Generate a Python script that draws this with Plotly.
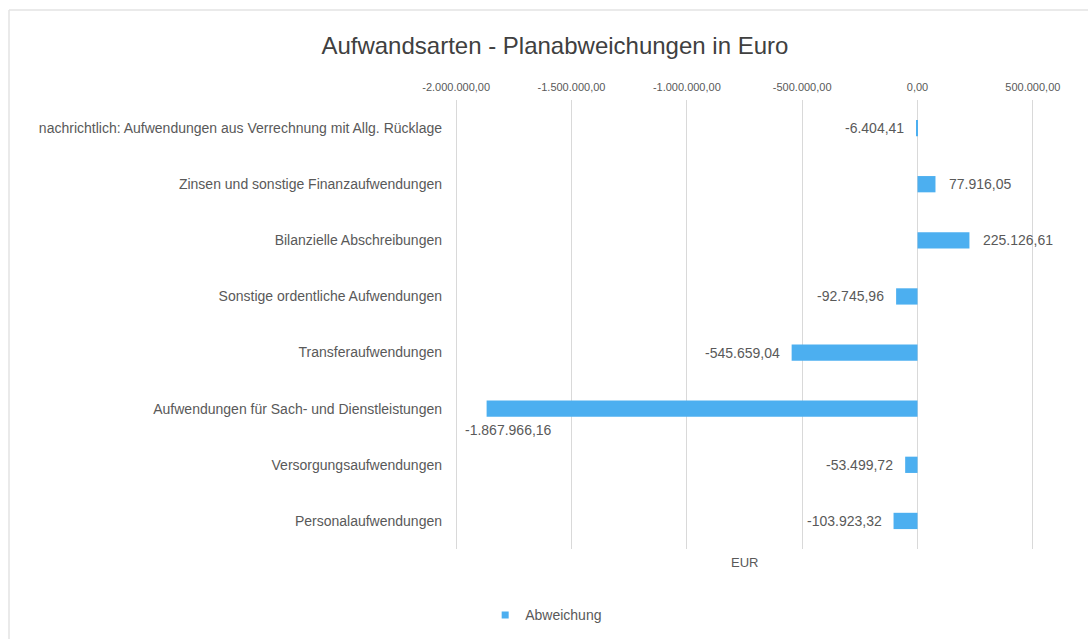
import plotly.graph_objects as go

categories = [
    "Personalaufwendungen",
    "Versorgungsaufwendungen",
    "Aufwendungen für Sach- und Dienstleistungen",
    "Transferaufwendungen",
    "Sonstige ordentliche Aufwendungen",
    "Bilanzielle Abschreibungen",
    "Zinsen und sonstige Finanzaufwendungen",
    "nachrichtlich: Aufwendungen aus Verrechnung mit Allg. Rücklage",
]
abweichung = [-103923.32, -53499.72, -1867966.16, -545659.04, -92745.96, 225126.61, 77916.05, -6404.41]
tick_vals = [-2000000, -1500000, -1000000, -500000, 0, 500000]


def de_fmt(v):
    s = f"{v:,.2f}"
    return s.replace(",", "X").replace(".", ",").replace("X", ".")


tick_text = [de_fmt(v) for v in tick_vals]

BLUE = "#4CAFF0"
TXT = "#595959"
FONT = "Liberation Sans, Arial, sans-serif"

fig = go.Figure()
fig.add_trace(go.Bar(
    x=abweichung, y=categories, orientation="h", name="Abweichung",
    marker=dict(color=BLUE, line=dict(width=0)), width=0.29,
    showlegend=False, hoverinfo="x+y",
))
# legend entry with small square symbol
fig.add_trace(go.Scatter(
    x=[None], y=[None], mode="markers", name="Abweichung",
    marker=dict(symbol="square", size=7, color=BLUE), showlegend=True,
))

annotations = []
for c, v in zip(categories, abweichung):
    if v < -1000000:
        annotations.append(dict(x=v, y=c, text=de_fmt(v), showarrow=False,
                                xanchor="left", yanchor="middle", xshift=-24, yshift=-21,
                                font=dict(size=14, color=TXT, family=FONT)))
    elif v < 0:
        annotations.append(dict(x=v, y=c, text=de_fmt(v), showarrow=False,
                                xanchor="right", yanchor="middle", xshift=-10,
                                font=dict(size=14, color=TXT, family=FONT)))
    else:
        annotations.append(dict(x=v, y=c, text=de_fmt(v), showarrow=False,
                                xanchor="left", yanchor="middle", xshift=12,
                                font=dict(size=14, color=TXT, family=FONT)))

annotations.append(dict(x=0.5, y=-0.01, xref="paper", yref="paper", text="EUR",
                        showarrow=False, xanchor="center", yanchor="top",
                        font=dict(size=13, color=TXT, family=FONT)))

PL, PR = 455, 1034
W = PR - PL
px_x = lambda p: (p - PL) / W
px_y = lambda p: (549 - p) / 449
fig.update_layout(
    width=1088, height=639,
    paper_bgcolor="white", plot_bgcolor="white",
    margin=dict(l=PL, r=1088 - PR, t=100, b=90),
    title=dict(text="Aufwandsarten - Planabweichungen in Euro", x=0.51, xref="container",
               xanchor="center", y=0.928, yanchor="middle",
               font=dict(size=24, color="#404040", family=FONT)),
    font=dict(family=FONT, color=TXT),
    xaxis=dict(side="top", range=[-2005000, 505000], tickvals=tick_vals, ticktext=tick_text,
               showgrid=True, gridcolor="#d9d9d9", gridwidth=1, zeroline=False,
               showline=False, ticks="", tickfont=dict(size=11, color=TXT),
               ticklabelstandoff=6, fixedrange=True),
    yaxis=dict(categoryorder="array", categoryarray=categories, range=[-0.5, 7.5],
               showgrid=False, zeroline=False, showline=False, ticks="",
               tickfont=dict(size=14, color=TXT), ticklabelstandoff=12),
    legend=dict(orientation="h", x=0.502, xref="container", xanchor="center",
                y=0.037, yref="container", yanchor="middle",
                font=dict(size=14, color=TXT, family=FONT), itemwidth=30),
    annotations=annotations,
    shapes=[
        dict(type="line", xref="paper", yref="paper", x0=px_x(9), x1=px_x(1088),
             y0=px_y(10), y1=px_y(10), line=dict(color="#e3e3e3", width=1.5), layer="below"),
        dict(type="line", xref="paper", yref="paper", x0=px_x(9), x1=px_x(9),
             y0=px_y(10), y1=px_y(639), line=dict(color="#e3e3e3", width=1.5), layer="below"),
    ],
)

fig.write_html("out.html", config={"displayModeBar": False},
               post_script="document.body.style.margin='0';")
